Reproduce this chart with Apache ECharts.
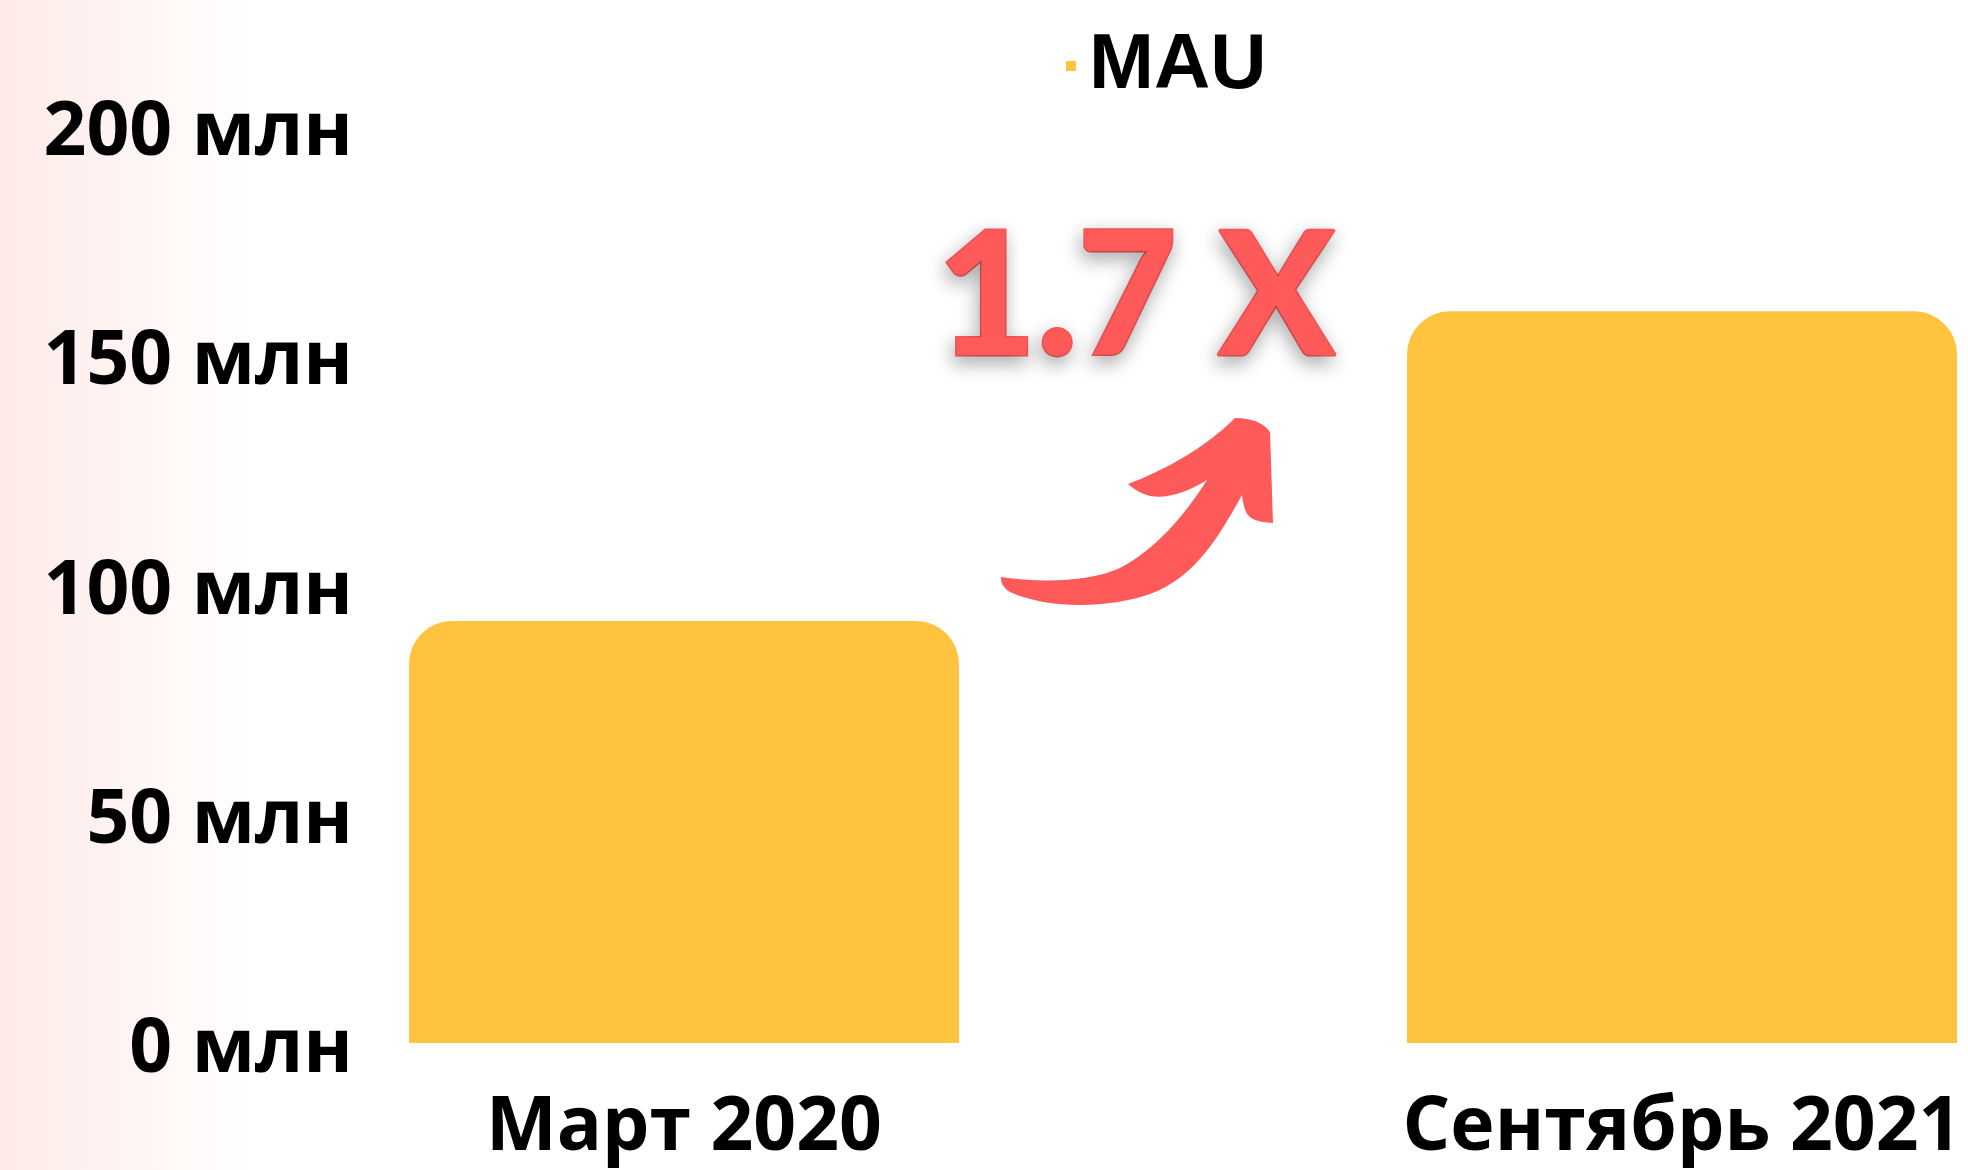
<!DOCTYPE html>
<html>
<head>
<meta charset="utf-8">
<title>MAU</title>
<script src="https://cdn.jsdelivr.net/npm/echarts@6/dist/echarts.min.js"></script>
<style>
  html, body { margin: 0; padding: 0; background: #fff; }
  #mau_barchart { width: 1968px; height: 1170px; }
</style>
</head>
<body>
<div id="mau_barchart"></div>
<script>
// данные
var categories = ['Март 2020', 'Сентябрь 2021'];
var mauValues = [92, 159.5];   // млн
var yTicks = [0, 50, 100, 150, 200];
var growthText = '1.7 X';

// стрелка как отдельная фигура
var CurvedArrow = echarts.graphic.extendShape({
    shape: {},
    buildPath: function (ctx) {
        ctx.moveTo(1001, 577);
        ctx.bezierCurveTo(1040, 583, 1090, 582, 1120, 568);
        ctx.bezierCurveTo(1155, 550, 1185, 515, 1207, 480);
        ctx.quadraticCurveTo(1175, 500, 1150, 496);
        ctx.quadraticCurveTo(1138, 493, 1128, 484);
        ctx.bezierCurveTo(1165, 470, 1205, 448, 1235, 418);
        ctx.quadraticCurveTo(1260, 418, 1270, 432);
        ctx.lineTo(1273, 523);
        ctx.quadraticCurveTo(1250, 522, 1246, 512);
        ctx.quadraticCurveTo(1243, 505, 1242, 495);
        ctx.bezierCurveTo(1220, 535, 1195, 578, 1150, 594);
        ctx.bezierCurveTo(1110, 608, 1050, 610, 1010, 592);
        ctx.quadraticCurveTo(1000, 586, 1001, 577);
        ctx.closePath();
    }
});
echarts.graphic.registerShape('curvedArrow', CurvedArrow);

var mauChart = echarts.init(document.getElementById('mau_barchart'));

var option = {
    backgroundColor: '#fff',
    animation: false,
    legend: {
        data: ['MAU'],
        left: 1061,
        top: 22,
        icon: 'rect',
        itemWidth: 10,
        itemHeight: 10,
        textStyle: {
            fontFamily: 'Liberation Sans',
            fontWeight: 'bold',
            fontSize: 78,
            color: '#000',
            padding: [0, 0, 0, 8]
        }
    },
    grid: {
        left: 684,
        right: 286,
        top: 125.5,
        bottom: 127
    },
    xAxis: {
        type: 'category',
        data: categories,
        boundaryGap: false,
        axisLine: { show: false },
        axisTick: { show: false },
        splitLine: { show: false },
        axisLabel: {
            margin: 48,
            fontFamily: 'Open Sans',
            fontWeight: 'bold',
            fontSize: 75,
            color: '#000'
        }
    },
    yAxis: {
        type: 'value',
        min: yTicks[0],
        max: yTicks[yTicks.length - 1],
        interval: yTicks[1] - yTicks[0],
        axisLine: { show: false },
        axisTick: { show: false },
        splitLine: { show: false },
        axisLabel: {
            margin: 331,
            verticalAlign: 'top',
            lineHeight: 16,
            formatter: '{value} млн',
            fontFamily: 'Open Sans',
            fontWeight: 'bold',
            fontSize: 75,
            color: '#000'
        }
    },
    series: [{
        name: 'MAU',
        type: 'bar',
        data: mauValues,
        barWidth: 550,
        clip: false,
        itemStyle: {
            color: '#FFC340',
            borderRadius: [43, 43, 0, 0]
        }
    }],
    graphic: [
        // розовая подложка слева
        {
            type: 'rect',
            z: -10,
            silent: true,
            shape: { x: 0, y: 0, width: 1968, height: 1170 },
            style: {
                fill: {
                    type: 'linear', x: 0, y: 0, x2: 1, y2: 0,
                    colorStops: [
                        { offset: 0, color: '#fdeae7' },
                        { offset: 0.05, color: '#fef2f0' },
                        { offset: 0.13, color: '#ffffff' },
                        { offset: 1, color: '#ffffff' }
                    ]
                }
            }
        },
        // подпись роста
        {
            type: 'text',
            x: 1136,
            y: 300,
            z: 20,
            style: {
                text: growthText,
                fill: '#FF5A5A',
                stroke: '#FF5A5A',
                lineWidth: 3,
                fontSize: 172,
                fontFamily: 'Lato',
                fontWeight: 900,
                textAlign: 'center',
                textVerticalAlign: 'middle',
                textShadowColor: 'rgba(0,0,0,0.3)',
                textShadowBlur: 18,
                textShadowOffsetX: -2,
                textShadowOffsetY: 7
            }
        },
        // стрелка
        {
            type: 'curvedArrow',
            z: 20,
            shape: {},
            style: { fill: '#FF5A5A' }
        }
    ]
};
mauChart.setOption(option);
</script>
</body>
</html>
